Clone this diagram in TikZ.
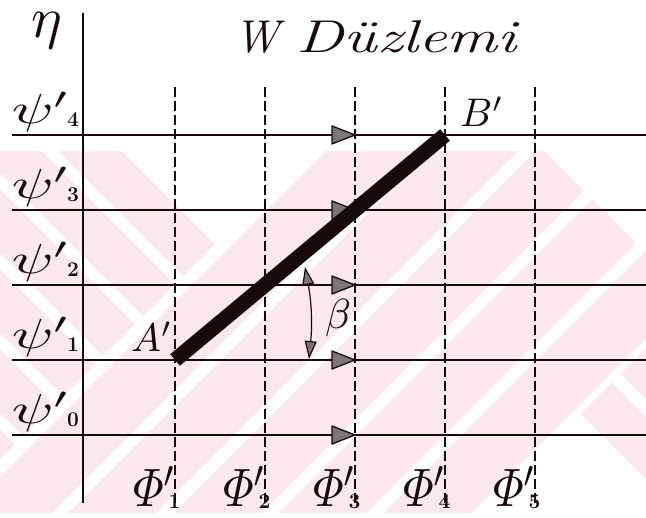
\documentclass[tikz,border=0pt]{standalone}
\usepackage{fontspec}
\usepackage{graphicx}
\usetikzlibrary{arrows.meta}
\definecolor{wmpink}{RGB}{252,233,237}
\definecolor{ink}{RGB}{22,10,10}
\definecolor{hatch}{RGB}{125,118,118}
\newcommand{\psilab}[1]{\scalebox{6.1}[4.2]{$\psi'$}\kern-4pt\raisebox{-3pt}{\fontsize{21}{21}\selectfont\bfseries #1}}
\newcommand{\philab}[1]{\scalebox{4.6}[5.4]{$\mathnormal{\Phi}'$}\kern-8pt\raisebox{-2pt}{\fontsize{21}{21}\selectfont\bfseries #1}}
\begin{document}
\begin{tikzpicture}[x=1pt,y=-1pt,
  wmstripe/.style={white, line width=12pt},
  gridline/.style={ink, line width=1.8pt},
  philine/.style={ink, line width=1.8pt, dash pattern=on 10pt off 4pt},
  thickbar/.style={ink, line width=15pt},
  lbl/.style={inner sep=0pt, outer sep=0pt, text=ink},
  flowtri/.pic={\draw[ink, line width=1.3pt, fill=hatch, line join=round] (0,0) -- (-23,-9) -- (-23,9) -- cycle;},
  anglearrow/.style={ink, line width=1.2pt,
     {Triangle[length=18pt,width=12pt,fill=hatch]}-{Triangle[length=18pt,width=12pt,fill=hatch]}}
]
\useasboundingbox (0,0) rectangle (646,518);

% ---------- watermark ----------
\begin{scope}
  \clip (0,151) rectangle (646,513);
  \fill[wmpink] (0,151) rectangle (646,513);
  \begin{scope}
    \clip (0,468) -- (222,243) -- (130,151) -- (646,151) -- (646,348) -- (576,418) -- (646,488) -- (646,513) -- (0,513) -- cycle;
    \foreach \c in {573,678,783,888,993,1098} \draw[wmstripe] (\c-530,530) -- (\c-140,140);
  \end{scope}
  \begin{scope}
    \clip (222,243) -- (130,151) -- (0,151) -- (0,468) -- cycle;
    \foreach \c in {-101,-181,-261,-341,-421} \draw[wmstripe] (\c+140,140) -- (\c+530,530);
  \end{scope}
  \begin{scope}
    \clip (576,418) -- (646,348) -- (646,488) -- cycle;
    \foreach \c in {238,318} \draw[wmstripe] (\c+140,140) -- (\c+530,530);
  \end{scope}
  \draw[wmstripe] (-62,530) -- (328,140);
  \draw[wmstripe] (110,131) -- (222,243);
  \draw[wmstripe] (576,418) -- (700,542);
  \draw[wmstripe] (533,131) -- (645,243);
  \fill[white] (130,151) -- (222,243) -- (314,151) -- cycle;
  \fill[white] (553,151) -- (645,243) -- (737,151) -- cycle;
  \fill[white] (481,513) -- (576,418) -- (671,513) -- cycle;
\end{scope}

% ---------- grid ----------
\foreach \k/\y in {0/435,1/360,2/285,3/210,4/135} {
  \coordinate (hl\k) at (12,\y);
  \coordinate (hr\k) at (646,\y);
}
\foreach \k/\x in {1/175,2/265,3/355,4/445,5/535} {
  \coordinate (vt\k) at (\x,87);
  \coordinate (vb\k) at (\x,507);
}
\coordinate (axtop) at (83,13);
\coordinate (axbot) at (83,503);

\foreach \k in {0,...,4} \draw[gridline] (hl\k) -- (hr\k);
\draw[gridline] (axtop) -- (axbot);
\foreach \k in {1,...,5} \draw[philine] (vt\k) -- (vb\k);

% flow triangles on the third line
\foreach \k in {0,...,4} \pic at (vt3 |- hl\k) {flowtri};

% ---------- the bar A'B' ----------
\coordinate (Apt) at (vt1 |- hl1);
\coordinate (Bpt) at (vt4 |- hl4);
\draw[thickbar] (Apt) -- (Bpt);

% ---------- angle beta ----------
\coordinate (betatop) at (305,267);
\coordinate (betabot) at (309,359);
\draw[anglearrow] (betatop) to[bend left=8] (betabot);
\node[lbl] (betalab) at (338,318) {\scalebox{4.2}{$\beta$}};

% ---------- labels ----------
\node[lbl, anchor=base west] (Alab) at (131,352) {\scalebox{4}{$A'$}};
\node[lbl, anchor=base west] (Blab) at (460,127) {\scalebox{4}{$B'$}};

\node[lbl, anchor=base west, font=\fontsize{46}{46}\selectfont\itshape] (title) at (234,53) {W\hspace{18pt}\scalebox{1.38}[1]{Düzlemi}};
\node[lbl] (eta) at (47,31) {\scalebox{5.8}{$\eta$}};

\foreach \k/\y in {0/424,1/349,2/274,3/199,4/124}
  \node[lbl, anchor=base west] (psi\k) at (12,\y) {\psilab{\k}};

\foreach \k/\x in {1/133,2/223,3/313,4/403,5/493}
  \node[lbl, anchor=base west] (phi\k) at (\x,507) {\philab{\k}};
\end{tikzpicture}
\end{document}
